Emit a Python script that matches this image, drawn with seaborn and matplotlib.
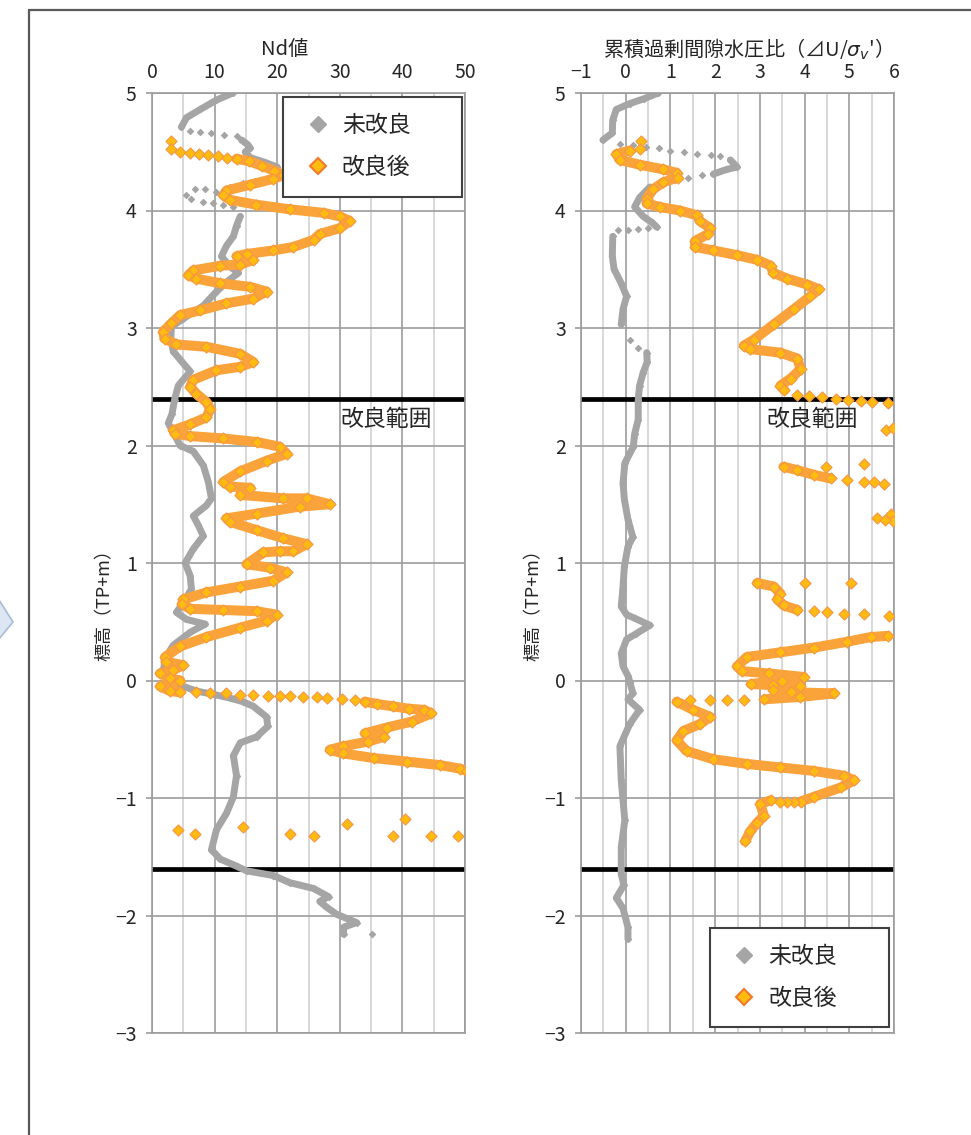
import numpy as np
import pandas as pd
import matplotlib.pyplot as plt
import seaborn as sns
from matplotlib.lines import Line2D
from matplotlib.patches import Polygon

# ---------------------------------------------------------
# Data (value, elevation TP+m)
# NaN in a *_path list starts a new dense piece; *_dots are isolated markers
# ---------------------------------------------------------
# Nd value, before improvement (未改良)
nd_before_path_x = [12.9, 10.3, 7.7, 5.5, 4.7, np.nan,
                    14.3, 15.3, 15.7, 14.9, 15.7, 18.0, 20.0, np.nan,
                    14.1, 13.5, 13.0, 11.9, 11.1, 12.5, 13.8, 11.9, 10.3, 8.2, 5.0, 3.1, 3.0, 3.4,
                    6.1, 4.2, 3.6, 3.2, 2.6, 3.4, 4.5, 6.6, 8.2, 9.0, 9.5, 8.7, 6.6, 7.4, 8.2, 6.6,
                    5.3, 6.1, 6.3, 5.0, 3.9, 5.5, 8.5, 6.1, 3.4, 2.1, 1.9, 2.9, 5.0, 7.1, 10.0, 12.5,
                    14.5, 16.2, 18.3, 18.5, 16.7, 14.1, 13.0, 13.5, 13.0, 11.9, 10.3, 9.5, 10.9, 13.5,
                    15.1, 19.4, 22.0, 25.8, 28.2, 26.8, 27.9, 29.5, 32.7, 30.6, 30.6]
nd_before_path_y = [5.00, 4.94, 4.86, 4.79, 4.71, np.nan,
                    4.60, 4.56, 4.53, 4.50, 4.45, 4.41, 4.37, np.nan,
                    3.95, 3.87, 3.78, 3.70, 3.61, 3.52, 3.47, 3.39, 3.31, 3.19, 3.08, 3.01, 2.91, 2.80,
                    2.63, 2.51, 2.39, 2.27, 2.19, 2.11, 2.00, 1.95, 1.83, 1.69, 1.55, 1.49, 1.40, 1.32, 1.23, 1.12,
                    1.00, 0.89, 0.78, 0.66, 0.58, 0.52, 0.48, 0.41, 0.30, 0.19, 0.11, 0.00, -0.05, -0.09, -0.12, -0.15,
                    -0.18, -0.22, -0.31, -0.39, -0.48, -0.53, -0.64, -0.81, -0.99, -1.13, -1.27, -1.44, -1.52, -1.58,
                    -1.62, -1.66, -1.72, -1.77, -1.84, -1.88, -1.93, -1.99, -2.06, -2.10, -2.16]
nd_before_dots_x = [6.0, 7.7, 9.5, 11.5, 13.5, 18.5, 16.5, 14.5, 12.5, 10.3, 8.4, 6.9, 5.5,
                    6.3, 8.1, 9.7, 11.4, 13.0, 35.2]
nd_before_dots_y = [4.68, 4.67, 4.66, 4.64, 4.63, 4.27, 4.25, 4.23, 4.20, 4.16, 4.18, 4.18, 4.13,
                    4.10, 4.07, 4.06, 4.05, 4.03, -2.16]

# Nd value, after improvement (改良後)
nd_after_path_x = [13.5, 15.5, 17.5, 19.5, 21.0, 19.4, 15.7, 11.9, 11.4, 12.5, 16.6, 22.0, 27.4, 30.0,
                   31.6, 30.0, 26.8, 25.8, 22.6, 19.4, 15.1, 13.5, 16.2, 14.1, 10.9, 6.6, 5.8, 7.1,
                   10.9, 15.7, 18.3, 16.2, 11.9, 7.7, 4.5, 3.1, 1.8, 2.0, 3.9, 8.7, 14.1, 16.2, 14.1,
                   10.3, 6.6, 6.1, 7.1, 8.7, 9.3, 8.7, 6.1, 3.4, 3.7, 6.1, 11.4, 16.7, 20.4, 21.5,
                   18.3, 14.1, 11.4, 12.5, 15.7, 14.1, 21.0, 24.7, 28.4, 23.6, 16.7, 11.9, 12.5, 16.7,
                   21.0, 24.7, 22.6, 20.4, 17.8, 15.1, 18.8, 21.5, 19.4, 14.1, 8.7, 5.0, 4.8, 6.1,
                   11.4, 16.7, 19.9, 18.3, 14.1, 8.7, 4.5, 2.1, 2.2, 5.0, 3.4, 1.3, 2.9, 4.5, 1.3,
                   2.9, 4.5, np.nan,
                   34.0, 36.0, 38.5, 41.0, 43.5, 44.6, 41.5, 37.5, 34.0, 37.0, 34.5, 30.5, 28.4,
                   30.5, 35.4, 40.7, 46.0, 49.2, 50.3]
nd_after_path_y = [4.44, 4.42, 4.38, 4.34, 4.30, 4.27, 4.22, 4.17, 4.13, 4.09, 4.05, 4.01, 3.98, 3.95,
                   3.91, 3.85, 3.80, 3.75, 3.69, 3.66, 3.63, 3.61, 3.58, 3.54, 3.53, 3.49, 3.45, 3.42,
                   3.38, 3.35, 3.31, 3.25, 3.21, 3.15, 3.11, 3.04, 2.97, 2.91, 2.86, 2.84, 2.78, 2.71, 2.67,
                   2.64, 2.56, 2.50, 2.44, 2.37, 2.31, 2.24, 2.18, 2.13, 2.10, 2.08, 2.06, 2.03, 1.99, 1.93,
                   1.87, 1.78, 1.69, 1.65, 1.64, 1.58, 1.55, 1.55, 1.50, 1.48, 1.42, 1.38, 1.35, 1.28,
                   1.21, 1.16, 1.10, 1.10, 1.09, 0.99, 0.96, 0.92, 0.85, 0.80, 0.75, 0.69, 0.65, 0.61,
                   0.60, 0.59, 0.56, 0.51, 0.45, 0.37, 0.29, 0.20, 0.16, 0.13, 0.09, 0.06, 0.02, 0.00, -0.05,
                   -0.09, -0.10, np.nan,
                   -0.18, -0.20, -0.22, -0.24, -0.25, -0.28, -0.35, -0.40, -0.45, -0.48, -0.52, -0.56, -0.59,
                   -0.62, -0.66, -0.69, -0.72, -0.75, -0.77]
nd_after_dots_x = [3.1, 3.1, 4.5, 6.0, 7.5, 9.0, 10.5, 12.0,
                   7.0, 9.2, 11.8, 14.0, 16.2, 18.5, 20.4, 22.0, 24.2, 26.3, 28.0, 30.4, 32.5,
                   4.2, 6.9, 14.6, 22.0, 25.9, 31.1, 40.4, 38.5, 44.6, 48.9]
nd_after_dots_y = [4.59, 4.52, 4.50, 4.49, 4.48, 4.47, 4.46, 4.45,
                   -0.10, -0.11, -0.11, -0.12, -0.12, -0.13, -0.13, -0.13, -0.14, -0.14, -0.15, -0.16, -0.17,
                   -1.27, -1.31, -1.25, -1.31, -1.32, -1.22, -1.18, -1.32, -1.32, -1.32]

# Cumulative excess pore pressure ratio, before improvement (未改良)
ratio_before_path_x = [0.73, 0.40, 0.09, -0.21, -0.29, -0.30, -0.51, np.nan,
                       2.34, 2.49, 2.26, 1.96, np.nan,
                       0.54, 0.31, 0.20, 0.39, 0.58, 0.69, np.nan,
                       -0.29, -0.30, -0.26, -0.10, 0.02, -0.06, -0.10, np.nan,
                       0.47, 0.48, 0.39, 0.31, 0.28, 0.28, 0.20, 0.17, -0.02, -0.06, -0.03, 0.05, 0.16,
                       0.05, -0.03, -0.06, -0.10, 0.02, 0.20, 0.54, 0.24, 0.02, -0.10, -0.06, 0.05, 0.09,
                       0.16, 0.05, 0.31, 0.09, -0.13, -0.10, -0.02, -0.10, -0.10, -0.04, -0.21, -0.06,
                       0.05, 0.05]
ratio_before_path_y = [5.00, 4.95, 4.91, 4.86, 4.77, 4.66, 4.60, np.nan,
                       4.43, 4.37, 4.35, 4.31, np.nan,
                       4.20, 4.11, 4.03, 3.95, 3.90, 3.86, np.nan,
                       3.78, 3.61, 3.50, 3.38, 3.27, 3.16, 3.03, np.nan,
                       2.79, 2.71, 2.62, 2.51, 2.39, 2.22, 2.10, 1.99, 1.85, 1.68, 1.54, 1.37, 1.22,
                       1.14, 0.97, 0.80, 0.63, 0.56, 0.53, 0.47, 0.40, 0.35, 0.23, 0.12, 0.04, -0.01,
                       -0.11, -0.16, -0.25, -0.37, -0.56, -0.85, -1.19, -1.42, -1.65, -1.74, -1.85, -1.94,
                       -2.10, -2.20]
ratio_before_dots_x = [-0.13, 0.17, 0.46, 0.74, 1.00, 1.30, 1.60, 1.90, 2.10,
                       1.70, 1.40, 1.10, 0.80, 0.50, 0.27, 0.05, -0.18, 0.09, 0.28]
ratio_before_dots_y = [4.57, 4.56, 4.54, 4.53, 4.51, 4.50, 4.48, 4.47, 4.46,
                       4.30, 4.28, 4.26, 4.24, 3.85, 3.84, 3.83, 3.83, 2.90, 2.83]

# Cumulative excess pore pressure ratio, after improvement (改良後)
ratio_after_path_x = [0.09, -0.21, -0.13, 0.31, 0.84, 1.14, 1.16, 0.84, 0.61, 0.47, 0.47, 0.76, 1.21,
                      1.59, 1.66, 1.89, 1.84, 1.55, 1.55, 1.96, 2.49, 2.94, 3.24, 3.30, 3.61, 4.06,
                      4.32, 4.13, 3.76, 3.31, 2.86, 2.64, 2.79, 3.46, 3.84, 3.91, 3.69, 3.46, 3.55, np.nan,
                      3.53, 3.84, 4.21, 4.58, np.nan,
                      2.94, 3.31, 3.46, 3.39, 3.53, 3.84, np.nan,
                      5.86, 5.48, 4.96, 4.21, 3.46, 2.71, 2.49, 2.60, 3.20, 3.98, 3.50, 2.80, 3.30,
                      3.90, 3.30, 3.70, 4.66, 3.90, 3.10, np.nan,
                      1.14, 1.51, 1.89, 1.66, 1.29, 1.14, 1.36, 1.96, 2.71, 3.46, 4.21, 4.88, 5.11,
                      4.81, 4.21, 3.91, np.nan,
                      3.24, 3.01, 3.09, 2.94, 2.79, 2.67]
ratio_after_path_y = [4.51, 4.48, 4.43, 4.39, 4.35, 4.32, 4.28, 4.24, 4.18, 4.10, 4.06, 4.03, 4.00,
                      3.96, 3.91, 3.85, 3.80, 3.74, 3.69, 3.66, 3.62, 3.58, 3.53, 3.47, 3.42, 3.37,
                      3.33, 3.27, 3.16, 3.03, 2.90, 2.85, 2.82, 2.79, 2.74, 2.65, 2.57, 2.51, 2.47, np.nan,
                      1.82, 1.79, 1.75, 1.72, np.nan,
                      0.83, 0.80, 0.74, 0.69, 0.64, 0.60, np.nan,
                      0.38, 0.37, 0.33, 0.28, 0.24, 0.20, 0.12, 0.08, 0.06, 0.03, 0.00, -0.03, -0.04,
                      -0.05, -0.08, -0.10, -0.11, -0.14, -0.16, np.nan,
                      -0.18, -0.25, -0.31, -0.37, -0.43, -0.51, -0.60, -0.67, -0.71, -0.74, -0.77, -0.81, -0.85,
                      -0.91, -0.99, -1.03, np.nan,
                      -1.02, -1.05, -1.15, -1.21, -1.28, -1.37]
ratio_after_dots_x = [0.35, 0.33, 3.84, 4.10, 4.40, 4.70, 4.98, 5.27, 5.50, 5.86, 5.82, 5.97,
                      4.47, 5.33, 4.96, 5.33, 5.56, 5.78, 5.63, 5.93, 5.97, 5.80,
                      4.21, 4.51, 4.88, 5.33, 5.89, 4.00, 5.03,
                      2.64, 2.27, 1.89, 1.44, 3.76, 3.61, 3.46]
ratio_after_dots_y = [4.59, 4.52, 2.43, 2.42, 2.41, 2.40, 2.39, 2.38, 2.37, 2.36, 2.13, 2.15,
                      1.82, 1.84, 1.71, 1.69, 1.69, 1.67, 1.38, 1.42, 1.36, 1.37,
                      0.59, 0.58, 0.57, 0.57, 0.55, 0.83, 0.83,
                      -0.17, -0.17, -0.17, -0.17, -1.03, -1.03, -1.03]

# improved zone boundaries (TP+m)
ZONE_TOP = 2.4
ZONE_BOTTOM = -1.6

LABEL_BEFORE = "未改良"
LABEL_AFTER = "改良後"

GRAY = "#a5a5a5"
ORANGE_FACE = "#ffbb10"
ORANGE_EDGE = "#f79646"
ORANGE_LINE = "#f9a33a"


def path_frame(x, y):
    df = pd.DataFrame({"x": x, "y": y})
    df["seg"] = df["x"].isna().cumsum()
    return df.dropna()


def draw_series(ax, path_x, path_y, dots_x, dots_y, kind):
    path = path_frame(path_x, path_y)
    dots = pd.DataFrame({"x": dots_x, "y": dots_y})
    if kind == "before":
        lw, z, s, face, edge = 5.0, 2, 10, GRAY, GRAY
        line_col = GRAY
    else:
        lw, z, s, face, edge = 7.2, 3, 32, ORANGE_FACE, ORANGE_EDGE
        line_col = ORANGE_LINE
    sns.lineplot(data=path, x="x", y="y", units="seg", estimator=None, sort=False,
                 color=line_col, linewidth=lw, legend=False, ax=ax, zorder=z,
                 solid_capstyle="round", solid_joinstyle="round")
    pts = pd.concat([path[["x", "y"]], dots], ignore_index=True)
    sns.scatterplot(data=pts, x="x", y="y", marker="D", s=s, color=face,
                    edgecolor=edge, linewidth=0.8, legend=False, ax=ax, zorder=z + 0.1)


sns.set_theme(style="white")
plt.rcParams["font.family"] = ["Noto Sans CJK JP", "DejaVu Sans"]
plt.rcParams["mathtext.fontset"] = "dejavusans"
plt.rcParams["axes.unicode_minus"] = True

fig = plt.figure(figsize=(9.71, 11.35), dpi=100)
fig.patch.set_facecolor("white")

ax1 = fig.add_axes([152 / 971, 1 - 1033 / 1135, 313 / 971, 940 / 1135])
ax2 = fig.add_axes([581 / 971, 1 - 1033 / 1135, 313 / 971, 940 / 1135])

draw_series(ax1, nd_before_path_x, nd_before_path_y, nd_before_dots_x, nd_before_dots_y, "before")
draw_series(ax1, nd_after_path_x, nd_after_path_y, nd_after_dots_x, nd_after_dots_y, "after")
draw_series(ax2, ratio_before_path_x, ratio_before_path_y, ratio_before_dots_x, ratio_before_dots_y, "before")
draw_series(ax2, ratio_after_path_x, ratio_after_path_y, ratio_after_dots_x, ratio_after_dots_y, "after")

axis_setup = [
    (ax1, (0, 50), np.arange(0, 51, 10), np.arange(0, 51, 5), "Nd値", 0.425, 37.4),
    (ax2, (-1, 6), np.arange(-1, 7, 1), np.arange(-1, 6.01, 0.5),
     "累積過剰間隙水圧比（⊿U/$\\sigma_v$'）", 0.518, 4.17),
]

for ax, xlim, major, minor, title, title_x, zone_x in axis_setup:
    ax.set_xlim(*xlim)
    ax.set_ylim(-3, 5)
    ax.set_xticks(major)
    ax.set_xticks(minor, minor=True)
    ax.set_yticks(np.arange(-3, 6, 1))
    ax.xaxis.tick_top()
    ax.set_xlabel("")
    ax.set_ylabel("")
    ax.set_axisbelow(True)
    ax.grid(which="major", axis="both", color="#9c9c9c", linewidth=1.2)
    ax.grid(which="minor", axis="x", color="#d2d2d2", linewidth=1.2)
    for sp in ax.spines.values():
        sp.set_color("#9c9c9c")
        sp.set_linewidth(1.2)
    ax.tick_params(axis="x", which="both", length=0, pad=7, labelsize=14, labelcolor="#262626")
    ax.tick_params(axis="y", which="major", length=4, width=1.2, color="#9c9c9c", pad=7,
                   left=True, labelsize=14, labelcolor="#262626")
    ax.axhline(ZONE_TOP, color="black", linewidth=3.4, zorder=1.8)
    ax.axhline(ZONE_BOTTOM, color="black", linewidth=3.4, zorder=1.8)
    ax.text(zone_x, 2.22, "改良範囲", ha="center", va="center", fontsize=16.5, color="#262626")
    ax.text(title_x, 1.046, title, transform=ax.transAxes, ha="center", va="center",
            fontsize=14.5, color="#262626")
    ax.text(-0.15, 0.46, "標高（TP+m）", transform=ax.transAxes, rotation=90,
            ha="center", va="center", fontsize=13, color="#262626")

handles = [
    Line2D([], [], linestyle="none", marker="D", markersize=8.5,
           markerfacecolor=GRAY, markeredgecolor=GRAY),
    Line2D([], [], linestyle="none", marker="D", markersize=8.5,
           markerfacecolor=ORANGE_FACE, markeredgecolor="#f07a2a", markeredgewidth=1.5),
]
legend_kw = dict(mode="expand", borderaxespad=0, fontsize=16.5, fancybox=False, framealpha=1,
                 edgecolor="#404040", handlelength=1.5, handletextpad=0.3, labelspacing=0.85,
                 borderpad=0.75)
leg1 = ax1.legend(handles, [LABEL_BEFORE, LABEL_AFTER], loc="upper left",
                  bbox_to_anchor=(0.42, 0.891, 0.57, 0.105), **legend_kw)
leg2 = ax2.legend(handles, [LABEL_BEFORE, LABEL_AFTER], loc="lower left",
                  bbox_to_anchor=(0.412, 0.006, 0.572, 0.106), **legend_kw)
for leg in (leg1, leg2):
    leg.get_frame().set_linewidth(1.5)
    leg.set_zorder(10)

# page frame and the tip of the arrow shape at the left margin
fig.add_artist(Line2D([29 / 971, 1.0], [1 - 10 / 1135] * 2, transform=fig.transFigure,
                      color="#595959", linewidth=1.6))
fig.add_artist(Line2D([29 / 971] * 2, [0.0, 1 - 10 / 1135], transform=fig.transFigure,
                      color="#595959", linewidth=1.6))
arrow = Polygon([(-6 / 971, 1 - 592 / 1135), (13 / 971, 1 - 622 / 1135), (-6 / 971, 1 - 645 / 1135)],
                closed=True, transform=fig.transFigure, facecolor="#dde7f3", edgecolor="#a9bcd6",
                linewidth=1.2)
fig.add_artist(arrow)

fig.savefig("out.png", dpi=100, facecolor="white")
